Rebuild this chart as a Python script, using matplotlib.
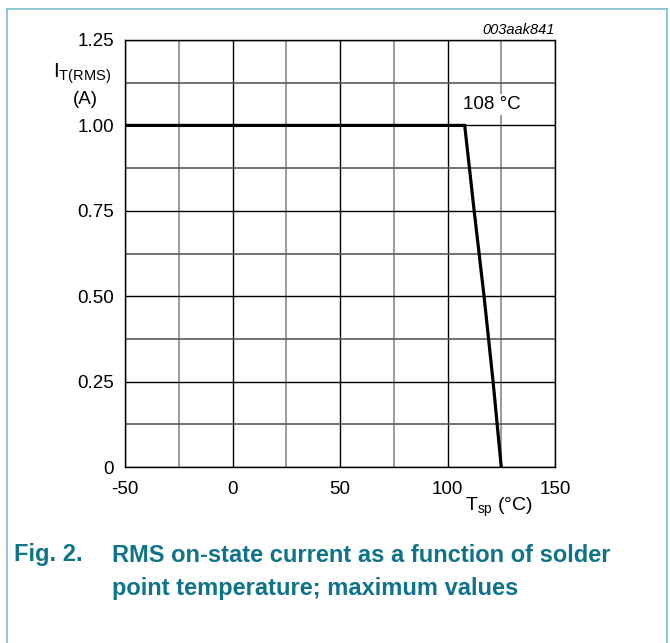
import matplotlib
matplotlib.use("Agg")
import matplotlib.pyplot as plt
from matplotlib.lines import Line2D

plt.rcParams['font.family'] = ['Liberation Sans', 'DejaVu Sans']
plt.rcParams['mathtext.fontset'] = 'custom'
plt.rcParams['mathtext.rm'] = 'Liberation Sans'
plt.rcParams['mathtext.it'] = 'Liberation Sans:italic'

# derating curve
temp_sp = [-50, 108, 112.4, 117, 121.2, 125]
current_rms = [1.0, 1.0, 0.75, 0.5, 0.25, 0.0]

x_ticks = [-50, 0, 50, 100, 150]
x_tick_labels = ['-50', '0', '50', '100', '150']
y_ticks = [0, 0.25, 0.5, 0.75, 1.0, 1.25]
y_tick_labels = ['0', '0.25', '0.50', '0.75', '1.00', '1.25']
x_minor = [-25, 25, 75, 125]
y_minor = [0.125, 0.375, 0.625, 0.875, 1.125]

teal = '#0f7389'
frame = '#7cbcc8'

fig = plt.figure(figsize=(6.7, 6.43), dpi=100)
ax = fig.add_axes([125 / 670, 1 - 467 / 643, 430 / 670, 427 / 643])

ax.set_xlim(-50, 150)
ax.set_ylim(0, 1.25)

# grid: majors black, minors grey
for xv in x_ticks:
    ax.axvline(xv, color='black', lw=1.0, zorder=1)
for xv in x_minor:
    ax.axvline(xv, color='#8a8a8a', lw=1.2, zorder=1)
for yv in y_ticks:
    ax.axhline(yv, color='black', lw=1.0, zorder=1)
for yv in y_minor:
    ax.axhline(yv, color='#5a5a5a', lw=1.2, zorder=1)

ax.plot(temp_sp, current_rms, color='black', lw=2.3, solid_joinstyle='miter', zorder=3)

ax.text(120.7, 1.06, '108 °C', fontsize=13.5, ha='center', va='center', zorder=4,
        bbox=dict(facecolor='white', edgecolor='none', pad=1.5))

ax.set_xticks(x_ticks)
ax.set_xticklabels(x_tick_labels)
ax.set_yticks(y_ticks)
ax.set_yticklabels(y_tick_labels)
ax.tick_params(axis='both', length=0, labelsize=13.5)
ax.tick_params(axis='y', pad=8)
ax.tick_params(axis='x', pad=10)
for s in ax.spines.values():
    s.set_color('black')
    s.set_linewidth(1.0)

ax.text(-0.1, 0.922, r'$\mathrm{I_{T(RMS)}}$', transform=ax.transAxes,
        fontsize=15, ha='center', va='center')
ax.text(-0.093, 0.86, '(A)', transform=ax.transAxes, fontsize=13.5,
        ha='center', va='center')
ax.text(0.87, -0.095, r'$\mathrm{T_{sp}}$ (°C)', transform=ax.transAxes,
        fontsize=14, ha='center', va='center')
ax.text(1.0, 1.023, '003aak841', transform=ax.transAxes, fontsize=10.5,
        style='italic', ha='right', va='center')

fig.text(14 / 670, 1 - 555 / 643, 'Fig. 2.', color=teal, fontsize=17,
         fontweight='bold', ha='left', va='center')
fig.text(112 / 670, 1 - 555 / 643, 'RMS on-state current as a function of solder',
         color=teal, fontsize=17, fontweight='bold', ha='left', va='center')
fig.text(112 / 670, 1 - 589 / 643, 'point temperature; maximum values',
         color=teal, fontsize=17, fontweight='bold', ha='left', va='center')

# open frame around the figure
fig.add_artist(Line2D([7 / 670, 7 / 670], [0, 1 - 9 / 643], color=frame, lw=1.2))
fig.add_artist(Line2D([7 / 670, 667 / 670], [1 - 9 / 643, 1 - 9 / 643], color=frame, lw=1.2))
fig.add_artist(Line2D([667 / 670, 667 / 670], [0, 1 - 9 / 643], color=frame, lw=1.2))

fig.savefig('out.png', dpi=100)
